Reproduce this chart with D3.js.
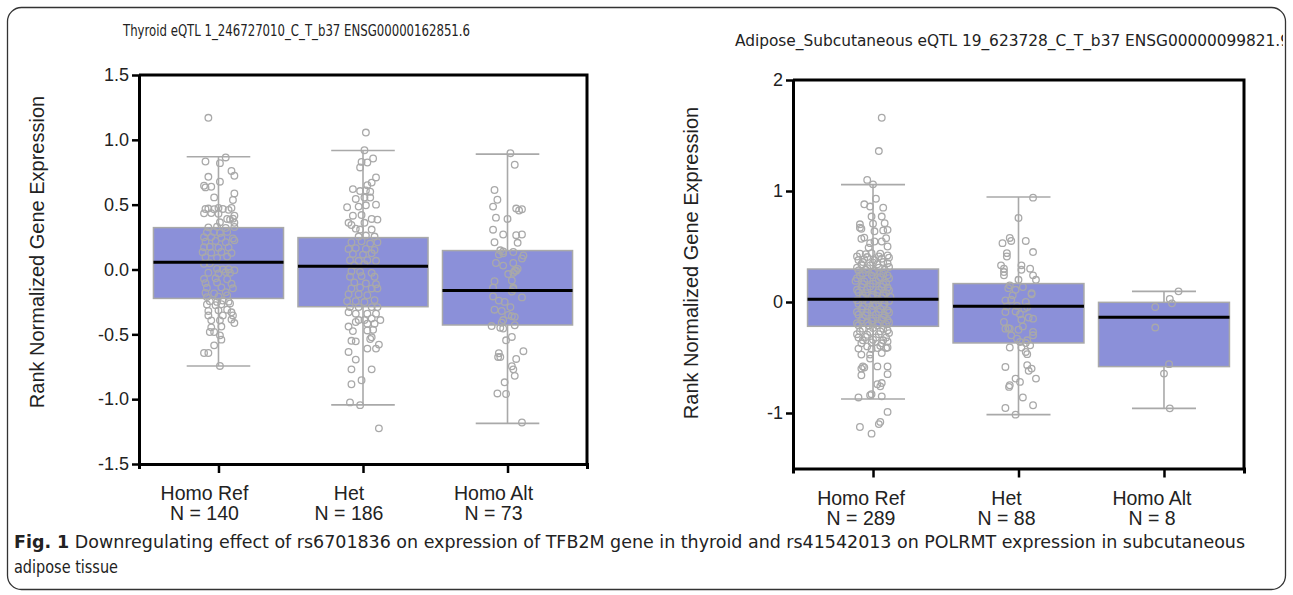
<!DOCTYPE html>
<html>
<head>
<meta charset="utf-8">
<script src="https://cdn.jsdelivr.net/npm/d3@7"></script>
<style>
  body { margin: 0; background: #fff; }
  svg text { font-family: "Liberation Sans", Arial, sans-serif; }
</style>
</head>
<body>
<svg id="fig" width="1293" height="595"></svg>
<script>
// genotype groups, same for both panels
var categories = ["Homo Ref", "Het", "Homo Alt"];

// thyroid panel
var thyroidN = [140, 186, 73];
var thyroidQ1 = [-0.223, -0.287, -0.428];
var thyroidMedian = [0.055, 0.025, -0.162];
var thyroidQ3 = [0.323, 0.246, 0.146];
var thyroidLow = [-0.744, -1.044, -1.187];
var thyroidHigh = [0.87, 0.918, 0.89];
var thyroidTicks = [-1.5, -1, -0.5, 0, 0.5, 1, 1.5];

// points: [jitter in category units, expression]
var thyroidRef = [
  [-0.07,1.17],[0.05,0.864],[-0.09,0.833],[0.01,0.82],[0.09,0.76],[0.11,0.723],[-0.07,0.715],[0.01,0.677],
  [-0.10,0.646],[-0.09,0.633],[-0.05,0.638],[0.11,0.587],[-0.03,0.556],[0.10,0.536],
  [-0.09,0.467],[-0.07,0.47],[-0.03,0.465],[0,0.475],[0.03,0.467],[0.07,0.46],[0.09,0.475],
  [-0.10,0.433],[-0.05,0.435],[0,0.43],[0.11,0.415],[0.06,0.39],[0.08,0.385],[0.10,0.392],[0.01,0.364],[0.11,0.36],
  [-0.07,0.325],[-0.01,0.33],[0.05,0.32],[0.11,0.328],[-0.08,0.287],[-0.03,0.29],[0.01,0.282],[0.06,0.29],
  [-0.10,0.249],[-0.05,0.25],[0.02,0.245],[0.10,0.24],[-0.09,0.215],[-0.02,0.22],[0.05,0.21],[0.11,0.225],
  [-0.10,0.172],[-0.06,0.175],[0,0.168],[0.07,0.17],[-0.11,0.133],[-0.05,0.13],[0.02,0.135],[0.09,0.128],
  [-0.09,0.095],[-0.01,0.09],[0.06,0.1],[-0.10,0.044],[-0.06,0.048],
  [-0.01,0.005],[0.03,0.0],[0.07,0.002],[0.11,-0.005],[-0.07,-0.025],[0,-0.03],[0.05,-0.02],[0.08,-0.025],
  [-0.10,-0.072],[-0.02,-0.068],[0.06,-0.075],[-0.09,-0.105],[-0.01,-0.1],[0.09,-0.11],
  [-0.08,-0.141],[0.02,-0.138],[0.10,-0.145],[-0.09,-0.18],[-0.03,-0.185],[0.05,-0.175],
  [-0.08,-0.213],[0,-0.21],[0.06,-0.2],[-0.06,-0.244],[-0.01,-0.25],[0.03,-0.24],[0.07,-0.248],
  [-0.08,-0.269],[-0.02,-0.275],[0.02,-0.268],[0.08,-0.262],[-0.07,-0.32],[0,-0.315],[0.06,-0.31],[0.09,-0.33],
  [-0.07,-0.354],[0.03,-0.354],[0.10,-0.354],[-0.05,-0.392],[0.01,-0.392],[0.09,-0.385],[0.11,-0.413],
  [-0.05,-0.446],[0.02,-0.44],[-0.06,-0.482],[-0.03,-0.482],[0.01,-0.508],[0.02,-0.541],[-0.03,-0.585],
  [-0.10,-0.644],[-0.07,-0.644],[0.01,-0.744]
];
var thyroidHet = [
  [0.02,1.056],[0.01,0.92],[0.07,0.856],[-0.01,0.83],[0.03,0.825],[-0.02,0.787],[0.09,0.71],[0.06,0.67],[0.03,0.65],
  [-0.07,0.62],[-0.02,0.605],[0.02,0.61],[0.05,0.6],[-0.05,0.544],[0.01,0.555],[0.05,0.555],
  [-0.11,0.48],[-0.03,0.485],[0.02,0.495],[0.09,0.5],[-0.07,0.415],[-0.01,0.42],[0.06,0.39],[0.10,0.385],
  [-0.10,0.36],[-0.08,0.343],[0.01,0.36],[-0.05,0.315],[-0.02,0.308],[0.06,0.308],
  [-0.03,0.254],[0.02,0.262],[0.08,0.254],[-0.08,0.21],[-0.01,0.218],[0.05,0.2],[0.10,0.21],
  [-0.10,0.159],[-0.05,0.165],[0.02,0.159],[0.08,0.151],[-0.07,0.12],[0,0.115],[0.06,0.125],
  [-0.09,0.072],[-0.03,0.067],[0.03,0.072],[0.09,0.067],[-0.06,0.033],[0.01,0.041],
  [-0.08,-0.013],[-0.02,-0.018],[0.06,-0.026],[-0.09,-0.056],[-0.01,-0.051],[0.08,-0.056],
  [-0.06,-0.10],[0.02,-0.108],[0.09,-0.113],[-0.08,-0.146],[-0.02,-0.138],[0.06,-0.146],[0.10,-0.146],
  [-0.10,-0.19],[-0.03,-0.19],[0.03,-0.198],[-0.11,-0.244],[-0.05,-0.244],[0.01,-0.251],[0.08,-0.236],
  [-0.09,-0.29],[-0.03,-0.29],[0.06,-0.29],[0.10,-0.29],[-0.10,-0.33],[-0.05,-0.341],[0.03,-0.341],[0.09,-0.341],
  [-0.03,-0.39],[0.01,-0.39],[0.06,-0.377],[0.12,-0.39],[-0.05,-0.405],[0.03,-0.418],[0.08,-0.418],
  [-0.10,-0.44],[-0.07,-0.475],[0.03,-0.47],[0.07,-0.465],[-0.08,-0.55],[-0.05,-0.554],[0.05,-0.536],[0.06,-0.523],
  [0.03,-0.61],[0.09,-0.61],[0.11,-0.579],[-0.10,-0.636],[-0.05,-0.695],[-0.08,-0.77],[0.06,-0.77],
  [-0.01,-0.854],[-0.08,-0.885],[-0.09,-1.025],[-0.02,-1.046],[0.11,-1.225]
];
var thyroidAlt = [
  [0.02,0.897],[0.05,0.808],[-0.09,0.613],[-0.07,0.538],[-0.10,0.485],[0.06,0.47],[0.10,0.465],[0.08,0.455],
  [-0.08,0.40],[0.0,0.39],[-0.10,0.307],[-0.03,0.27],[0.06,0.265],[0.10,0.27],[-0.09,0.21],[0.07,0.206],
  [-0.05,0.148],[-0.03,0.14],[0.04,0.135],[0.11,0.108],[0.10,0.085],[-0.06,0.115],[-0.03,0.125],
  [-0.08,0.05],[0.04,0.05],[-0.03,0.03],[0.06,-0.01],[0.07,0.005],[0.04,-0.025],[0.05,-0.01],[0.005,-0.035],
  [-0.09,-0.09],[0.03,-0.085],[-0.10,-0.14],[0.04,-0.15],[0.03,-0.17],[0.04,-0.14],
  [-0.10,-0.208],[0.10,-0.215],[-0.06,-0.24],[-0.02,-0.25],[-0.09,-0.31],[-0.04,-0.32],[0.02,-0.29],
  [0.005,-0.35],[0.03,-0.36],[0.05,-0.365],[-0.03,-0.39],[-0.04,-0.41],
  [-0.11,-0.436],[-0.05,-0.45],[-0.03,-0.455],[0.05,-0.43],[-0.01,-0.546],[0.03,-0.52],
  [-0.06,-0.646],[-0.05,-0.675],[-0.065,-0.675],[0.11,-0.63],[0.06,-0.69],[0.03,-0.746],[0.04,-0.77],[0.05,-0.82],
  [-0.02,-0.87],[-0.07,-0.956],[-0.01,-0.96],[0.10,-1.18]
];

// adipose panel
var adiposeN = [289, 88, 8];
var adiposeQ1 = [-0.219, -0.369, -0.582];
var adiposeMedian = [0.024, -0.039, -0.138];
var adiposeQ3 = [0.297, 0.166, -0.003];
var adiposeLow = [-0.874, -1.015, -0.958];
var adiposeHigh = [1.057, 0.946, 0.096];
var adiposeTicks = [-1, 0, 1, 2];

var adiposeRef = [
  [0.06,1.66],[0.04,1.36],[-0.04,1.10],[0,1.06],[0.02,0.93],[-0.06,0.88],[-0.02,0.86],[0.07,0.85],[-0.01,0.77],[0.06,0.77],
  [0,0.706],[0.08,0.71],[-0.09,0.70],[-0.09,0.67],[-0.08,0.66],[0.01,0.637],[0.07,0.645],[0.10,0.65],
  [-0.08,0.57],[-0.06,0.58],[-0.02,0.53],[0.01,0.545],[0.06,0.545],[0.09,0.575],[0.10,0.50],[-0.03,0.49],
  [-0.09,0.436],[-0.05,0.43],[-0.01,0.44],[0.05,0.436],[0.10,0.42],[-0.10,0.378],[-0.06,0.385],[0.01,0.378],[0.06,0.39],
  [0.10,0.35],[-0.08,0.34],[-0.02,0.33],[0.03,0.34],[-0.10,0.285],[-0.05,0.29],[0.01,0.28],[0.08,0.29],
  [-0.09,0.24],[-0.01,0.24],[0.05,0.225],[0.10,0.24],[-0.12,0.19],[-0.06,0.185],[0.02,0.19],[0.09,0.175],
  [-0.08,0.135],[-0.02,0.14],[0.06,0.135],[0.10,0.13],[-0.10,0.087],[-0.05,0.08],[0.03,0.087],[0.09,0.08],
  [-0.07,0.04],[-0.01,0.045],[0.06,0.035],[0.12,0.045],[-0.10,-0.015],[-0.03,-0.01],[0.02,-0.02],[0.08,-0.015],
  [-0.08,-0.063],[-0.01,-0.07],[0.05,-0.063],[0.10,-0.075],[-0.10,-0.114],[-0.05,-0.12],[0.02,-0.114],[0.08,-0.12],
  [-0.08,-0.165],[-0.01,-0.17],[0.06,-0.16],[0.10,-0.165],[-0.10,-0.21],[-0.03,-0.21],[0.03,-0.21],[0.09,-0.2],
  [-0.09,-0.264],[-0.02,-0.27],[0.05,-0.264],[0.10,-0.255],[-0.10,-0.32],[-0.05,-0.315],[0.02,-0.32],[0.09,-0.32],
  [-0.08,-0.372],[-0.01,-0.365],[0.06,-0.372],[0.10,-0.355],[-0.01,-0.423],[0.03,-0.415],[0.09,-0.415],
  [-0.02,-0.474],[0.06,-0.46],[-0.08,-0.474],[-0.02,-0.51],[0.10,-0.41],
  [-0.07,-0.58],[-0.08,-0.60],[-0.06,-0.59],[0.03,-0.58],[0.10,-0.58],[-0.08,-0.66],[0.10,-0.65],
  [0.03,-0.74],[0.05,-0.76],[0.06,-0.73],[-0.01,-0.83],[-0.02,-0.84],[0.06,-0.85],[-0.10,-0.86],
  [0.10,-0.99],[0.05,-1.08],[0.04,-1.10],[-0.09,-1.126],[-0.01,-1.186],
  [-0.11,0.41],[-0.04,0.405],[0.04,0.41],[0.11,0.40],[-0.07,0.36],[0,0.355],[0.07,0.36],
  [-0.11,0.31],[-0.04,0.305],[0.04,0.31],[0.11,0.315],[-0.07,0.26],[0,0.265],[0.07,0.255],
  [-0.11,0.215],[-0.04,0.21],[0.04,0.205],[0.11,0.215],[-0.07,0.16],[0,0.165],[0.07,0.16],
  [-0.11,0.11],[-0.04,0.115],[0.04,0.11],[0.11,0.105],[-0.07,0.06],[0,0.065],[0.07,0.06],
  [-0.11,0.015],[-0.04,0.01],[0.04,0.015],[0.11,0.01],[-0.07,-0.04],[0,-0.035],[0.07,-0.04],
  [-0.11,-0.09],[-0.04,-0.095],[0.04,-0.09],[0.11,-0.095],[-0.07,-0.14],[0,-0.145],[0.07,-0.14],
  [-0.11,-0.19],[-0.04,-0.185],[0.04,-0.19],[0.11,-0.185],[-0.07,-0.24],[0,-0.235],[0.07,-0.24],
  [-0.11,-0.29],[-0.04,-0.295],[0.04,-0.29],[0.11,-0.28],[-0.07,-0.345],[0,-0.34],[0.07,-0.345],
  [-0.04,-0.40],[0.05,-0.395],[-0.1,-0.42]
];
var adiposeHet = [
  [0.10,0.94],[0,0.757],[-0.06,0.577],[-0.05,0.55],[0.05,0.55],[-0.11,0.53],[0.10,0.45],[-0.08,0.44],[-0.08,0.41],
  [-0.12,0.33],[0.02,0.33],[0.08,0.30],[0.02,0.29],[-0.10,0.30],[-0.10,0.27],[-0.10,0.24],[0.10,0.24],[0.12,0.20],
  [0,0.20],[-0.06,0.15],[-0.07,0.125],[-0.02,0.11],[0.03,0.135],[0.09,0.07],[-0.04,0.06],
  [-0.09,0.015],[-0.05,0.02],[0.05,0.0],[0.09,0.08],[-0.08,-0.04],[-0.01,-0.035],[0.06,-0.045],[0.04,-0.06],
  [-0.09,-0.09],[-0.02,-0.085],[0.01,-0.11],[0.07,-0.14],[0.10,-0.15],[0.02,-0.16],[-0.1,-0.18],
  [-0.09,-0.24],[-0.06,-0.24],[-0.07,-0.235],[0.03,-0.22],[0.10,-0.27],[0.0,-0.25],[0.1,-0.3],[-0.05,-0.3],
  [-0.01,-0.33],[0.06,-0.345],[0.01,-0.36],[0.08,-0.39],[0.05,-0.37],[0.02,-0.41],[-0.06,-0.41],
  [0.05,-0.45],[0.06,-0.47],[-0.09,-0.585],[0.06,-0.57],[0.09,-0.6],[0.07,-0.62],
  [-0.02,-0.69],[0.12,-0.69],[0.01,-0.72],[-0.06,-0.75],[-0.065,-0.765],
  [0.03,-0.86],[-0.09,-0.955],[0.10,-0.93],[-0.02,-1.015]
];
var adiposeAlt = [
  [0.10,0.096],[0.04,0.027],[0.055,-0.012],[-0.06,-0.045],[-0.06,-0.23],[0.035,-0.56],[0.0,-0.645],[0.04,-0.958]
];

var captionBold = "Fig. 1";
var captionLine1 = " Downregulating effect of rs6701836 on expression of TFB2M gene in thyroid and rs41542013 on POLRMT expression in subcutaneous";
var captionLine2 = "adipose tissue";

var svg = d3.select("#fig");
var narrow = "'Liberation Sans Narrow', 'DejaVu Sans Condensed', sans-serif";

svg.append("defs").append("clipPath").attr("id", "frameClip")
  .append("rect").attr("x", 0).attr("y", 0).attr("width", 1283).attr("height", 595);

// outer rounded frame
svg.append("rect")
  .attr("x", 7.5).attr("y", 7.5).attr("width", 1278).attr("height", 582)
  .attr("rx", 14).attr("fill", "none").attr("stroke", "#333").attr("stroke-width", 1.3);

var boxFill = "#8b90d9";
var grey = "#a9a9a9";

var drawPanel = function(p) {
  var g = svg.append("g");
  var x = d3.scaleLinear().domain([-0.55, 2.55]).range([p.left, p.right]);
  var y = d3.scaleLinear().domain(p.yDomain).range([p.bottom, p.top]);
  var fmt = function(d) { return d3.format(p.yFormat)(d).replace("\u2212", "-"); };

  // title
  g.append("text")
    .attr("x", p.titleX).attr("y", p.titleY)
    .attr("font-size", p.titleSize).attr("fill", "#222")
    .attr("textLength", p.titleLength).attr("lengthAdjust", "spacingAndGlyphs")
    .attr("clip-path", "url(#frameClip)")
    .style("font-family", narrow)
    .text(p.title);

  var groups = categories.map(function(c, i) {
    return { i: i, q1: p.q1[i], med: p.median[i], q3: p.q3[i], lo: p.low[i], hi: p.high[i], pts: p.points[i] };
  });

  // whiskers
  groups.forEach(function(d) {
    var cx = x(d.i);
    g.append("line").attr("x1", cx).attr("x2", cx).attr("y1", y(d.hi)).attr("y2", y(d.lo))
      .attr("stroke", grey).attr("stroke-width", 1.6);
    [d.hi, d.lo].forEach(function(v) {
      g.append("line").attr("x1", x(d.i - 0.22)).attr("x2", x(d.i + 0.22)).attr("y1", y(v)).attr("y2", y(v))
        .attr("stroke", grey).attr("stroke-width", 1.6);
    });
  });

  // boxes
  g.selectAll("rect.box").data(groups).enter().append("rect")
    .attr("class", "box")
    .attr("x", function(d) { return x(d.i - 0.45); })
    .attr("width", function(d) { return x(d.i + 0.45) - x(d.i - 0.45); })
    .attr("y", function(d) { return y(d.q3); })
    .attr("height", function(d) { return y(d.q1) - y(d.q3); })
    .attr("fill", boxFill).attr("stroke", grey).attr("stroke-width", 1.5);

  // jittered points
  groups.forEach(function(d) {
    g.selectAll(null).data(d.pts).enter().append("circle")
      .attr("cx", function(pt) { return x(d.i + pt[0]); })
      .attr("cy", function(pt) { return y(pt[1]); })
      .attr("r", 3.3)
      .attr("fill", "none").attr("stroke", grey).attr("stroke-width", 1.3);
  });

  // medians
  g.selectAll("line.med").data(groups).enter().append("line")
    .attr("x1", function(d) { return x(d.i - 0.45); })
    .attr("x2", function(d) { return x(d.i + 0.45); })
    .attr("y1", function(d) { return y(d.med); })
    .attr("y2", function(d) { return y(d.med); })
    .attr("stroke", "#000").attr("stroke-width", 3);

  // frame top/right
  g.append("path")
    .attr("d", "M" + p.left + "," + p.top + "H" + p.right + "V" + p.bottom)
    .attr("fill", "none").attr("stroke", "#000").attr("stroke-width", 3);

  var yAxis = g.append("g").attr("transform", "translate(" + p.left + ",0)")
    .call(d3.axisLeft(y).tickValues(p.ticks).tickFormat(fmt).tickSize(7).tickSizeOuter(0));
  yAxis.select(".domain").attr("stroke-width", 3);
  yAxis.selectAll(".tick line").attr("stroke-width", 2.5);
  yAxis.selectAll(".tick text").attr("font-size", 18).attr("fill", "#222")
    .style("font-family", "'Liberation Sans', Arial, sans-serif");

  var xAxis = g.append("g").attr("transform", "translate(0," + p.bottom + ")")
    .call(d3.axisBottom(x).tickValues([0, 1, 2]).tickFormat("").tickSize(9).tickSizeOuter(5));
  xAxis.select(".domain").attr("stroke-width", 3);
  xAxis.selectAll(".tick line").attr("stroke-width", 2.5);

  // category labels
  groups.forEach(function(d) {
    var t = g.append("text").attr("text-anchor", "middle").attr("font-size", 19.5).attr("fill", "#222");
    t.append("tspan").attr("x", x(d.i) + p.labelShift).attr("y", p.bottom + 36).text(categories[d.i]);
    t.append("tspan").attr("x", x(d.i) + p.labelShift).attr("y", p.bottom + 56).text("N = " + p.n[d.i]);
  });

  // y label
  g.append("text")
    .attr("transform", "translate(" + p.yLabelX + "," + p.yLabelY + ") rotate(-90)")
    .attr("text-anchor", "middle").attr("font-size", 20).attr("fill", "#222")
    .text("Rank Normalized Gene Expression");
};

drawPanel({
  title: "Thyroid eQTL 1_246727010_C_T_b37 ENSG00000162851.6",
  titleX: 123, titleY: 36, titleSize: 16, titleLength: 347,
  left: 139, right: 587, top: 75, bottom: 464,
  yDomain: [-1.5, 1.5], ticks: thyroidTicks, yFormat: ".1f",
  q1: thyroidQ1, median: thyroidMedian, q3: thyroidQ3, low: thyroidLow, high: thyroidHigh,
  points: [thyroidRef, thyroidHet, thyroidAlt], n: thyroidN,
  labelShift: -14, yLabelX: 44, yLabelY: 252
});

drawPanel({
  title: "Adipose_Subcutaneous eQTL 19_623728_C_T_b37 ENSG00000099821.9",
  titleX: 735, titleY: 46, titleSize: 16, titleLength: 555,
  left: 793, right: 1244, top: 80, bottom: 468.5,
  yDomain: [-1.5, 2], ticks: adiposeTicks, yFormat: "d",
  q1: adiposeQ1, median: adiposeMedian, q3: adiposeQ3, low: adiposeLow, high: adiposeHigh,
  points: [adiposeRef, adiposeHet, adiposeAlt], n: adiposeN,
  labelShift: -12, yLabelX: 698, yLabelY: 263
});

// caption
var cap = svg.append("text").attr("x", 14).attr("y", 548).attr("font-size", 18).attr("fill", "#222")
  .attr("textLength", 1231).attr("lengthAdjust", "spacingAndGlyphs")
  .style("font-family", narrow);
cap.append("tspan").attr("font-weight", "bold").text(captionBold);
cap.append("tspan").text(captionLine1);
svg.append("text").attr("x", 14).attr("y", 573).attr("font-size", 18).attr("fill", "#222")
  .attr("textLength", 104).attr("lengthAdjust", "spacingAndGlyphs")
  .style("font-family", narrow)
  .text(captionLine2);
</script>
</body>
</html>
